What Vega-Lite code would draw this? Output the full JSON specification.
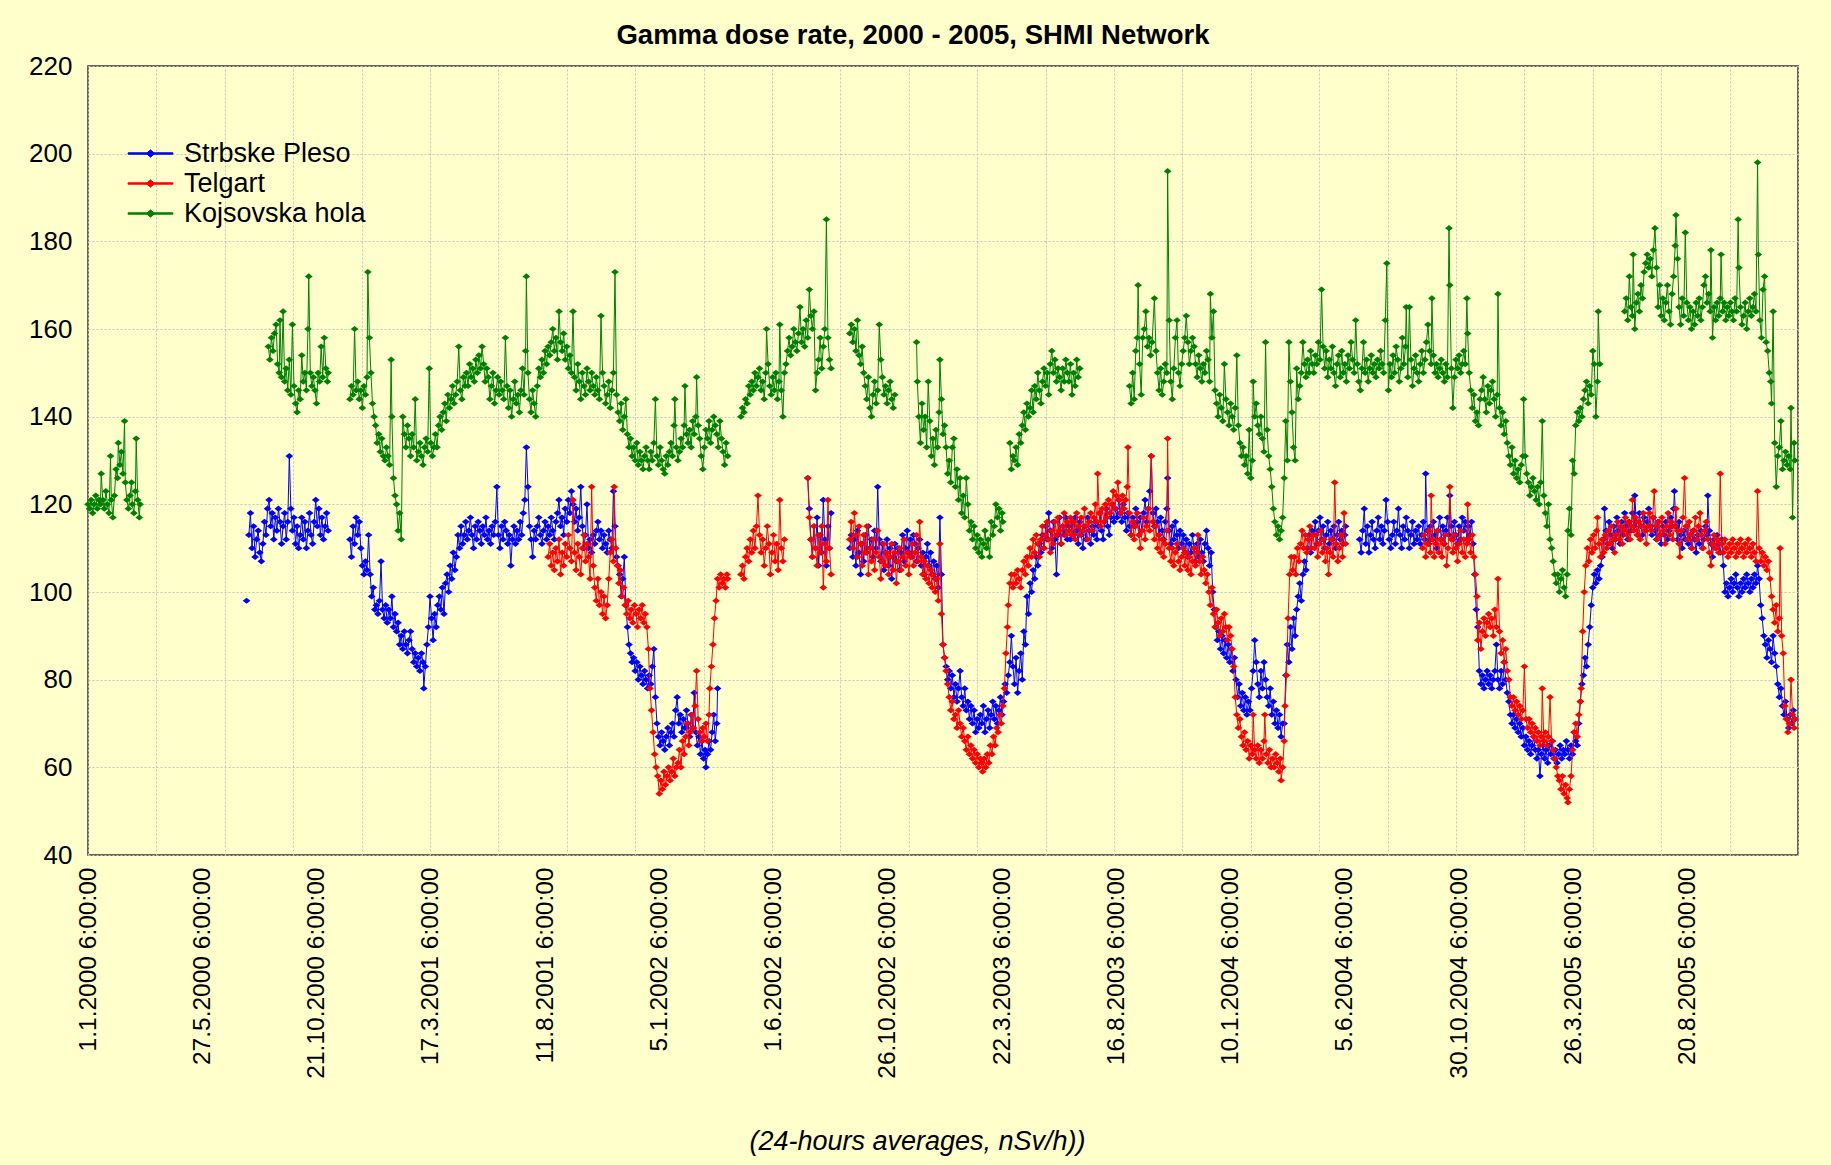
{
"$schema": "https://vega.github.io/schema/vega-lite/v6.json",
"width": 1710, "height": 789,
"autosize": {"type": "none"},
"padding": {"left": 88, "top": 66, "right": 33, "bottom": 310},
"background": "#FFFFCC",
"title": {"text": "Gamma dose rate, 2000 - 2005, SHMI Network", "font": "Liberation Sans", "fontSize": 27.5, "fontWeight": "bold", "color": "black", "frame": "group", "anchor": "middle", "dx": -30, "dy": 39, "offset": 21, "baseline": "alphabetic"},
"config": {
  "view": {"stroke": "#333333", "strokeWidth": 1.5},
  "axis": {"labelFont": "Liberation Sans", "titleFont": "Liberation Sans"},
  "legend": {"orient": "none", "legendX": 48, "legendY": 73, "padding": 0, "labelFontSize": 27, "labelFont": "Liberation Sans", "labelColor": "black", "labelLimit": 500, "symbolType": "M-1.6,-0.05L1.6,-0.05L1.6,0.05L-1.6,0.05ZM0,-0.26L0.3,0L0,0.26L-0.3,0Z", "symbolSize": 784, "symbolStrokeWidth": 1, "labelOffset": 19, "rowPadding": 2}
},
"datasets": {
"sp": [
{"d":204,"v":98},{"d":205,"v":null},
{"d":207,"v":113},{"d":209,"v":118},{"d":211,"v":110},{"d":213,"v":115},{"d":215,"v":108},{"d":217,"v":112},{"d":219,"v":114},{"d":221,"v":109},{"d":223,"v":107},{"d":225,"v":111},{"d":227,"v":116},{"d":229,"v":113},{"d":231,"v":119},{"d":233,"v":121},{"d":235,"v":115},{"d":237,"v":118},{"d":239,"v":112},{"d":241,"v":117},{"d":243,"v":114},{"d":245,"v":119},{"d":247,"v":116},{"d":249,"v":111},{"d":251,"v":115},{"d":253,"v":118},{"d":255,"v":112},{"d":257,"v":116},{"d":259,"v":131},{"d":261,"v":119},{"d":263,"v":114},{"d":265,"v":117},{"d":267,"v":111},{"d":269,"v":115},{"d":271,"v":110},{"d":273,"v":113},{"d":275,"v":117},{"d":277,"v":112},{"d":279,"v":116},{"d":281,"v":110},{"d":283,"v":114},{"d":285,"v":118},{"d":287,"v":113},{"d":289,"v":111},{"d":291,"v":116},{"d":293,"v":121},{"d":295,"v":115},{"d":297,"v":119},{"d":299,"v":113},{"d":301,"v":117},{"d":303,"v":112},{"d":305,"v":115},{"d":307,"v":118},{"d":309,"v":114},
{"d":323,"v":null},
{"d":337,"v":112},{"d":339,"v":108},{"d":341,"v":115},{"d":343,"v":111},{"d":345,"v":117},{"d":347,"v":113},{"d":349,"v":116},{"d":351,"v":110},{"d":353,"v":106},{"d":355,"v":104},{"d":357,"v":107},{"d":359,"v":105},{"d":361,"v":113},{"d":363,"v":104},{"d":365,"v":99},{"d":367,"v":101},{"d":369,"v":96},{"d":371,"v":97},{"d":373,"v":95},{"d":375,"v":98},{"d":377,"v":107},{"d":379,"v":96},{"d":381,"v":94},{"d":383,"v":97},{"d":385,"v":93},{"d":387,"v":96},{"d":389,"v":94},{"d":391,"v":99},{"d":393,"v":92},{"d":395,"v":95},{"d":397,"v":91},{"d":399,"v":93},{"d":401,"v":88},{"d":403,"v":90},{"d":405,"v":87},{"d":407,"v":91},{"d":409,"v":88},{"d":411,"v":86},{"d":413,"v":89},{"d":415,"v":91},{"d":417,"v":87},{"d":419,"v":84},{"d":421,"v":86},{"d":423,"v":83},{"d":425,"v":85},{"d":427,"v":82},{"d":429,"v":86},{"d":431,"v":84},{"d":432,"v":78},{"d":434,"v":83},{"d":436,"v":88},{"d":438,"v":92},{"d":440,"v":99},{"d":442,"v":94},{"d":444,"v":89},{"d":446,"v":95},{"d":448,"v":92},{"d":450,"v":97},{"d":452,"v":99},{"d":454,"v":96},{"d":456,"v":101},{"d":458,"v":95},{"d":460,"v":102},{"d":462,"v":104},{"d":464,"v":100},{"d":466,"v":106},{"d":468,"v":103},{"d":470,"v":109},{"d":472,"v":105},{"d":474,"v":108},{"d":476,"v":113},{"d":478,"v":110},{"d":480,"v":115},{"d":482,"v":111},{"d":484,"v":113},{"d":486,"v":116},{"d":488,"v":112},{"d":490,"v":114},{"d":492,"v":117},{"d":494,"v":113},{"d":496,"v":110},{"d":498,"v":115},{"d":500,"v":112},{"d":502,"v":116},{"d":504,"v":114},{"d":506,"v":111},{"d":508,"v":115},{"d":510,"v":113},{"d":512,"v":117},{"d":514,"v":112},{"d":516,"v":114},{"d":518,"v":111},{"d":520,"v":115},{"d":522,"v":113},{"d":524,"v":116},{"d":526,"v":124},{"d":528,"v":113},{"d":530,"v":110},{"d":532,"v":115},{"d":534,"v":112},{"d":536,"v":116},{"d":538,"v":114},{"d":540,"v":111},{"d":542,"v":113},{"d":544,"v":106},{"d":546,"v":112},{"d":548,"v":115},{"d":550,"v":111},{"d":552,"v":114},{"d":554,"v":112},{"d":556,"v":116},{"d":558,"v":113},{"d":560,"v":118},{"d":562,"v":121},{"d":564,"v":133},{"d":566,"v":124},{"d":568,"v":115},{"d":570,"v":112},{"d":572,"v":108},{"d":574,"v":114},{"d":576,"v":112},{"d":578,"v":115},{"d":580,"v":117},{"d":582,"v":113},{"d":584,"v":111},{"d":586,"v":114},{"d":588,"v":116},{"d":590,"v":112},{"d":592,"v":115},{"d":594,"v":113},{"d":596,"v":117},{"d":598,"v":114},{"d":600,"v":112},{"d":602,"v":116},{"d":604,"v":118},{"d":606,"v":121},{"d":608,"v":115},{"d":610,"v":117},{"d":612,"v":113},{"d":614,"v":119},{"d":616,"v":116},{"d":618,"v":121},{"d":620,"v":118},{"d":622,"v":123},{"d":624,"v":120},{"d":626,"v":116},{"d":628,"v":119},{"d":630,"v":114},{"d":632,"v":117},{"d":634,"v":124},{"d":636,"v":115},{"d":638,"v":110},{"d":640,"v":113},{"d":642,"v":120},{"d":644,"v":110},{"d":646,"v":112},{"d":648,"v":109},{"d":650,"v":113},{"d":652,"v":111},{"d":654,"v":114},{"d":656,"v":116},{"d":658,"v":112},{"d":660,"v":114},{"d":662,"v":110},{"d":664,"v":113},{"d":666,"v":111},{"d":668,"v":109},{"d":670,"v":114},{"d":672,"v":112},{"d":674,"v":110},{"d":676,"v":123},{"d":678,"v":115},{"d":680,"v":108},{"d":682,"v":106},{"d":684,"v":104},{"d":686,"v":99},{"d":688,"v":103},{"d":690,"v":108},{"d":692,"v":97},{"d":694,"v":92},{"d":696,"v":88},{"d":698,"v":86},{"d":700,"v":84},{"d":702,"v":85},{"d":704,"v":82},{"d":706,"v":84},{"d":708,"v":80},{"d":710,"v":83},{"d":712,"v":81},{"d":714,"v":79},{"d":716,"v":82},{"d":718,"v":80},{"d":720,"v":78},{"d":722,"v":81},{"d":724,"v":79},{"d":726,"v":83},{"d":728,"v":87},{"d":730,"v":76},{"d":732,"v":70},{"d":734,"v":67},{"d":736,"v":65},{"d":738,"v":68},{"d":740,"v":66},{"d":742,"v":64},{"d":744,"v":67},{"d":746,"v":69},{"d":748,"v":65},{"d":750,"v":68},{"d":752,"v":70},{"d":754,"v":67},{"d":756,"v":73},{"d":758,"v":76},{"d":760,"v":70},{"d":762,"v":72},{"d":764,"v":68},{"d":766,"v":71},{"d":768,"v":69},{"d":770,"v":73},{"d":772,"v":70},{"d":774,"v":67},{"d":776,"v":72},{"d":778,"v":69},{"d":780,"v":77},{"d":782,"v":68},{"d":784,"v":65},{"d":786,"v":67},{"d":788,"v":63},{"d":790,"v":66},{"d":792,"v":62},{"d":794,"v":64},{"d":795,"v":60},{"d":797,"v":63},{"d":799,"v":66},{"d":801,"v":64},{"d":803,"v":68},{"d":805,"v":72},{"d":807,"v":66},{"d":809,"v":70},{"d":810,"v":78},
{"d":868,"v":null},
{"d":926,"v":126},{"d":928,"v":119},{"d":930,"v":112},{"d":932,"v":108},{"d":934,"v":115},{"d":936,"v":110},{"d":938,"v":117},{"d":940,"v":106},{"d":942,"v":113},{"d":944,"v":109},{"d":946,"v":121},{"d":948,"v":112},{"d":950,"v":106},{"d":952,"v":115},{"d":954,"v":110},{"d":956,"v":118},
{"d":968,"v":null},
{"d":980,"v":110},{"d":982,"v":113},{"d":984,"v":108},{"d":986,"v":112},{"d":988,"v":106},{"d":990,"v":114},{"d":992,"v":109},{"d":994,"v":104},{"d":996,"v":111},{"d":998,"v":107},{"d":1000,"v":113},{"d":1002,"v":109},{"d":1004,"v":115},{"d":1006,"v":110},{"d":1008,"v":112},{"d":1010,"v":108},{"d":1012,"v":114},{"d":1014,"v":110},{"d":1016,"v":124},{"d":1018,"v":112},{"d":1020,"v":107},{"d":1022,"v":111},{"d":1024,"v":105},{"d":1026,"v":109},{"d":1028,"v":112},{"d":1030,"v":106},{"d":1032,"v":110},{"d":1034,"v":103},{"d":1036,"v":108},{"d":1038,"v":111},{"d":1040,"v":107},{"d":1042,"v":110},{"d":1044,"v":105},{"d":1046,"v":109},{"d":1048,"v":113},{"d":1050,"v":107},{"d":1052,"v":110},{"d":1054,"v":114},{"d":1056,"v":109},{"d":1058,"v":112},{"d":1060,"v":108},{"d":1062,"v":113},{"d":1064,"v":111},{"d":1066,"v":107},{"d":1068,"v":110},{"d":1070,"v":112},{"d":1072,"v":106},{"d":1074,"v":109},{"d":1076,"v":104},{"d":1078,"v":108},{"d":1080,"v":111},{"d":1082,"v":106},{"d":1084,"v":109},{"d":1086,"v":104},{"d":1088,"v":107},{"d":1090,"v":103},{"d":1092,"v":106},{"d":1094,"v":101},{"d":1096,"v":117},{"d":1098,"v":104},{"d":1100,"v":88},{"d":1102,"v":85},{"d":1104,"v":83},{"d":1106,"v":80},{"d":1108,"v":82},{"d":1110,"v":78},{"d":1112,"v":81},{"d":1114,"v":76},{"d":1116,"v":79},{"d":1118,"v":75},{"d":1120,"v":78},{"d":1122,"v":82},{"d":1124,"v":76},{"d":1126,"v":74},{"d":1128,"v":78},{"d":1130,"v":73},{"d":1132,"v":75},{"d":1134,"v":71},{"d":1136,"v":74},{"d":1138,"v":70},{"d":1140,"v":73},{"d":1142,"v":68},{"d":1144,"v":71},{"d":1146,"v":69},{"d":1148,"v":72},{"d":1150,"v":70},{"d":1152,"v":74},{"d":1154,"v":68},{"d":1156,"v":71},{"d":1158,"v":73},{"d":1160,"v":69},{"d":1162,"v":72},{"d":1164,"v":75},{"d":1166,"v":71},{"d":1168,"v":74},{"d":1170,"v":70},{"d":1172,"v":73},{"d":1174,"v":76},{"d":1176,"v":72},{"d":1178,"v":75},{"d":1180,"v":79},{"d":1182,"v":77},{"d":1184,"v":81},{"d":1186,"v":84},{"d":1188,"v":90},{"d":1190,"v":83},{"d":1192,"v":79},{"d":1194,"v":85},{"d":1196,"v":77},{"d":1198,"v":82},{"d":1200,"v":86},{"d":1202,"v":80},{"d":1204,"v":91},{"d":1206,"v":88},{"d":1208,"v":99},{"d":1210,"v":95},{"d":1212,"v":102},{"d":1214,"v":100},{"d":1216,"v":105},{"d":1218,"v":103},{"d":1220,"v":108},{"d":1222,"v":106},{"d":1224,"v":111},{"d":1226,"v":109},{"d":1228,"v":113},{"d":1230,"v":110},{"d":1232,"v":115},{"d":1234,"v":112},{"d":1236,"v":118},{"d":1238,"v":114},{"d":1240,"v":110},{"d":1242,"v":116},{"d":1244,"v":112},{"d":1246,"v":104},{"d":1248,"v":113},{"d":1250,"v":117},{"d":1252,"v":111},{"d":1254,"v":115},{"d":1256,"v":113},{"d":1258,"v":117},{"d":1260,"v":112},
{"d":1262,"v":115},{"d":1264,"v":112},{"d":1266,"v":116},{"d":1268,"v":113},{"d":1270,"v":117},{"d":1272,"v":114},{"d":1274,"v":111},{"d":1276,"v":116},{"d":1278,"v":113},{"d":1280,"v":110},{"d":1282,"v":115},{"d":1284,"v":112},{"d":1286,"v":117},{"d":1288,"v":114},{"d":1290,"v":111},{"d":1292,"v":115},{"d":1294,"v":113},{"d":1296,"v":116},{"d":1298,"v":112},{"d":1300,"v":115},{"d":1302,"v":118},{"d":1304,"v":114},{"d":1306,"v":112},{"d":1308,"v":116},{"d":1310,"v":119},{"d":1312,"v":115},{"d":1314,"v":113},{"d":1316,"v":117},{"d":1318,"v":120},{"d":1320,"v":116},{"d":1322,"v":119},{"d":1324,"v":117},{"d":1326,"v":121},{"d":1328,"v":118},{"d":1330,"v":116},{"d":1332,"v":120},{"d":1334,"v":117},{"d":1336,"v":114},{"d":1338,"v":118},{"d":1340,"v":115},{"d":1342,"v":113},{"d":1344,"v":117},{"d":1346,"v":115},{"d":1348,"v":119},{"d":1350,"v":116},{"d":1352,"v":113},{"d":1354,"v":117},{"d":1356,"v":114},{"d":1358,"v":118},{"d":1360,"v":121},{"d":1362,"v":116},{"d":1364,"v":119},{"d":1366,"v":123},{"d":1368,"v":131},{"d":1370,"v":118},{"d":1372,"v":115},{"d":1374,"v":119},{"d":1376,"v":116},{"d":1378,"v":113},{"d":1380,"v":117},{"d":1382,"v":114},{"d":1384,"v":112},{"d":1386,"v":116},{"d":1388,"v":119},{"d":1389,"v":126},{"d":1391,"v":114},{"d":1393,"v":111},{"d":1395,"v":115},{"d":1397,"v":112},{"d":1399,"v":116},{"d":1401,"v":113},{"d":1403,"v":110},{"d":1405,"v":114},{"d":1407,"v":111},{"d":1409,"v":113},{"d":1411,"v":109},{"d":1413,"v":112},{"d":1415,"v":108},{"d":1417,"v":111},{"d":1419,"v":109},{"d":1421,"v":113},{"d":1423,"v":110},{"d":1425,"v":107},{"d":1427,"v":111},{"d":1429,"v":108},{"d":1431,"v":112},{"d":1433,"v":109},{"d":1435,"v":107},{"d":1437,"v":111},{"d":1439,"v":114},{"d":1441,"v":110},{"d":1443,"v":106},{"d":1445,"v":109},{"d":1447,"v":100},{"d":1449,"v":96},{"d":1451,"v":92},{"d":1453,"v":89},{"d":1455,"v":91},{"d":1457,"v":87},{"d":1459,"v":90},{"d":1461,"v":86},{"d":1463,"v":89},{"d":1465,"v":85},{"d":1467,"v":88},{"d":1469,"v":84},{"d":1471,"v":87},{"d":1473,"v":82},{"d":1475,"v":85},{"d":1477,"v":80},{"d":1479,"v":76},{"d":1481,"v":79},{"d":1483,"v":74},{"d":1485,"v":77},{"d":1487,"v":73},{"d":1489,"v":76},{"d":1491,"v":72},{"d":1493,"v":75},{"d":1495,"v":73},{"d":1497,"v":78},{"d":1499,"v":82},{"d":1501,"v":89},{"d":1503,"v":84},{"d":1505,"v":79},{"d":1507,"v":76},{"d":1509,"v":82},{"d":1511,"v":78},{"d":1513,"v":84},{"d":1515,"v":80},{"d":1517,"v":76},{"d":1519,"v":74},{"d":1521,"v":78},{"d":1523,"v":72},{"d":1525,"v":75},{"d":1527,"v":70},{"d":1529,"v":73},{"d":1531,"v":69},{"d":1533,"v":72},{"d":1535,"v":67},{"d":1537,"v":70},{"d":1539,"v":70},{"d":1541,"v":81},{"d":1543,"v":88},{"d":1545,"v":84},{"d":1547,"v":92},{"d":1549,"v":87},{"d":1551,"v":94},{"d":1553,"v":90},{"d":1555,"v":96},{"d":1557,"v":99},{"d":1559,"v":102},{"d":1561,"v":98},{"d":1563,"v":104},{"d":1565,"v":107},{"d":1567,"v":105},{"d":1569,"v":110},{"d":1571,"v":113},{"d":1573,"v":109},{"d":1575,"v":114},
{"d":1577,"v":113},{"d":1579,"v":116},{"d":1581,"v":111},{"d":1583,"v":114},{"d":1585,"v":117},{"d":1587,"v":112},{"d":1589,"v":115},{"d":1591,"v":110},{"d":1593,"v":113},{"d":1595,"v":116},{"d":1597,"v":111},{"d":1599,"v":114},{"d":1601,"v":112},{"d":1603,"v":115},{"d":1605,"v":110},{"d":1607,"v":113},{"d":1609,"v":116},{"d":1611,"v":112},{"d":1613,"v":114},{"d":1615,"v":111},{"d":1617,"v":113},{"d":1618,"v":115},
{"d":1627,"v":null},
{"d":1636,"v":112},{"d":1638,"v":109},{"d":1640,"v":114},{"d":1642,"v":119},{"d":1644,"v":111},{"d":1646,"v":115},{"d":1648,"v":109},{"d":1650,"v":113},{"d":1652,"v":116},{"d":1654,"v":112},{"d":1656,"v":110},{"d":1658,"v":114},{"d":1660,"v":117},{"d":1662,"v":112},{"d":1664,"v":115},{"d":1666,"v":111},{"d":1668,"v":114},{"d":1670,"v":121},{"d":1672,"v":116},{"d":1674,"v":112},{"d":1676,"v":110},{"d":1678,"v":113},{"d":1680,"v":116},{"d":1682,"v":111},{"d":1684,"v":114},{"d":1686,"v":119},{"d":1688,"v":113},{"d":1690,"v":110},{"d":1692,"v":115},{"d":1694,"v":112},{"d":1696,"v":117},{"d":1698,"v":114},{"d":1700,"v":110},{"d":1702,"v":113},{"d":1704,"v":116},{"d":1706,"v":111},{"d":1708,"v":114},{"d":1710,"v":112},{"d":1712,"v":115},{"d":1714,"v":111},{"d":1716,"v":113},{"d":1718,"v":116},{"d":1720,"v":112},{"d":1721,"v":127},{"d":1723,"v":114},{"d":1725,"v":111},{"d":1727,"v":115},{"d":1729,"v":112},{"d":1731,"v":116},{"d":1733,"v":113},{"d":1735,"v":110},{"d":1737,"v":114},{"d":1739,"v":117},{"d":1741,"v":112},{"d":1743,"v":115},{"d":1745,"v":111},{"d":1747,"v":114},{"d":1749,"v":117},{"d":1751,"v":113},{"d":1752,"v":122},{"d":1754,"v":115},{"d":1756,"v":112},{"d":1758,"v":116},{"d":1760,"v":113},{"d":1762,"v":111},{"d":1764,"v":115},{"d":1766,"v":112},{"d":1768,"v":117},{"d":1770,"v":114},{"d":1772,"v":116},{"d":1774,"v":112},{"d":1776,"v":115},{"d":1778,"v":113},{"d":1780,"v":116},{"d":1782,"v":111},{"d":1784,"v":104},{"d":1786,"v":96},{"d":1788,"v":92},{"d":1790,"v":82},{"d":1792,"v":79},{"d":1794,"v":81},{"d":1796,"v":78},{"d":1798,"v":80},{"d":1800,"v":82},{"d":1802,"v":79},{"d":1804,"v":81},{"d":1806,"v":78},{"d":1808,"v":80},{"d":1810,"v":82},{"d":1812,"v":88},{"d":1814,"v":80},{"d":1816,"v":78},{"d":1818,"v":82},{"d":1820,"v":79},{"d":1822,"v":84},{"d":1824,"v":80},{"d":1826,"v":77},{"d":1828,"v":75},{"d":1830,"v":72},{"d":1832,"v":70},{"d":1834,"v":72},{"d":1836,"v":69},{"d":1838,"v":71},{"d":1840,"v":68},{"d":1842,"v":70},{"d":1844,"v":67},{"d":1846,"v":69},{"d":1848,"v":65},{"d":1850,"v":67},{"d":1852,"v":64},{"d":1854,"v":66},{"d":1856,"v":63},{"d":1858,"v":65},{"d":1860,"v":67},{"d":1862,"v":64},{"d":1864,"v":62},{"d":1866,"v":64},{"d":1868,"v":58},{"d":1870,"v":63},{"d":1872,"v":65},{"d":1874,"v":62},{"d":1876,"v":64},{"d":1878,"v":61},{"d":1880,"v":65},{"d":1882,"v":63},{"d":1884,"v":66},{"d":1886,"v":62},{"d":1888,"v":64},{"d":1890,"v":61},
{"d":1892,"v":63},{"d":1894,"v":65},{"d":1896,"v":62},{"d":1898,"v":64},{"d":1900,"v":63},{"d":1902,"v":66},{"d":1904,"v":64},{"d":1906,"v":62},{"d":1908,"v":65},{"d":1910,"v":63},{"d":1912,"v":68},{"d":1914,"v":66},{"d":1916,"v":65},{"d":1918,"v":70},{"d":1920,"v":75},{"d":1922,"v":79},{"d":1924,"v":81},{"d":1926,"v":85},{"d":1928,"v":83},{"d":1930,"v":88},{"d":1932,"v":92},{"d":1934,"v":97},{"d":1936,"v":101},{"d":1938,"v":104},{"d":1940,"v":102},{"d":1942,"v":105},{"d":1944,"v":103},{"d":1946,"v":106},{"d":1948,"v":108},{"d":1950,"v":112},{"d":1951,"v":119},{"d":1953,"v":114},{"d":1955,"v":111},{"d":1957,"v":116},{"d":1959,"v":113},{"d":1961,"v":110},{"d":1963,"v":115},{"d":1965,"v":112},{"d":1967,"v":117},{"d":1969,"v":114},{"d":1971,"v":111},{"d":1973,"v":116},{"d":1975,"v":113},{"d":1977,"v":118},{"d":1979,"v":115},{"d":1981,"v":112},{"d":1983,"v":116},{"d":1985,"v":114},{"d":1987,"v":118},{"d":1989,"v":115},{"d":1990,"v":122},{"d":1992,"v":116},{"d":1994,"v":113},{"d":1996,"v":118},{"d":1998,"v":115},{"d":2000,"v":113},{"d":2002,"v":117},{"d":2004,"v":114},{"d":2006,"v":116},{"d":2008,"v":119},{"d":2010,"v":115},{"d":2012,"v":113},{"d":2014,"v":117},{"d":2016,"v":114},{"d":2018,"v":112},{"d":2020,"v":116},{"d":2022,"v":113},{"d":2024,"v":111},{"d":2026,"v":115},{"d":2028,"v":113},{"d":2030,"v":116},{"d":2032,"v":112},{"d":2034,"v":114},{"d":2036,"v":117},{"d":2038,"v":115},{"d":2040,"v":119},{"d":2041,"v":123},{"d":2043,"v":115},{"d":2045,"v":112},{"d":2047,"v":116},{"d":2049,"v":113},{"d":2051,"v":110},{"d":2053,"v":114},{"d":2055,"v":112},{"d":2057,"v":115},{"d":2059,"v":111},{"d":2061,"v":113},{"d":2063,"v":110},{"d":2065,"v":114},{"d":2067,"v":112},{"d":2069,"v":109},{"d":2071,"v":113},{"d":2073,"v":111},{"d":2075,"v":114},{"d":2077,"v":110},{"d":2079,"v":112},{"d":2081,"v":115},{"d":2083,"v":113},{"d":2084,"v":122},{"d":2086,"v":114},{"d":2088,"v":111},{"d":2090,"v":108},{"d":2092,"v":112},{"d":2094,"v":110},{"d":2096,"v":113},{"d":2098,"v":111},{"d":2100,"v":109},{"d":2102,"v":112},{"d":2104,"v":106},{"d":2106,"v":100},{"d":2108,"v":102},{"d":2110,"v":99},{"d":2112,"v":101},{"d":2114,"v":103},{"d":2116,"v":100},{"d":2118,"v":102},{"d":2120,"v":104},{"d":2122,"v":101},{"d":2124,"v":99},{"d":2126,"v":102},{"d":2128,"v":100},{"d":2130,"v":103},{"d":2132,"v":101},{"d":2134,"v":104},{"d":2136,"v":102},{"d":2138,"v":100},{"d":2140,"v":103},{"d":2142,"v":101},{"d":2144,"v":104},{"d":2146,"v":102},{"d":2148,"v":106},{"d":2150,"v":103},{"d":2152,"v":97},{"d":2154,"v":94},{"d":2156,"v":90},{"d":2158,"v":88},{"d":2160,"v":85},{"d":2162,"v":89},{"d":2164,"v":87},{"d":2166,"v":84},{"d":2168,"v":90},{"d":2170,"v":86},{"d":2172,"v":83},{"d":2174,"v":79},{"d":2176,"v":76},{"d":2178,"v":78},{"d":2180,"v":74},{"d":2182,"v":72},{"d":2184,"v":75},{"d":2186,"v":71},{"d":2188,"v":69},{"d":2190,"v":72},{"d":2192,"v":70},{"d":2194,"v":73},{"d":2196,"v":71}
],
"tg": [
{"d":592,"v":108},{"d":594,"v":111},{"d":596,"v":106},{"d":598,"v":109},{"d":600,"v":105},{"d":602,"v":110},{"d":604,"v":107},{"d":606,"v":112},{"d":608,"v":104},{"d":610,"v":109},{"d":612,"v":106},{"d":614,"v":111},{"d":616,"v":108},{"d":618,"v":113},{"d":620,"v":110},{"d":622,"v":107},{"d":624,"v":121},{"d":626,"v":109},{"d":628,"v":105},{"d":630,"v":111},{"d":632,"v":108},{"d":634,"v":104},{"d":636,"v":110},{"d":638,"v":113},{"d":640,"v":107},{"d":642,"v":111},{"d":644,"v":108},{"d":646,"v":103},{"d":648,"v":124},{"d":650,"v":106},{"d":652,"v":101},{"d":654,"v":98},{"d":656,"v":103},{"d":658,"v":97},{"d":660,"v":100},{"d":662,"v":95},{"d":664,"v":99},{"d":666,"v":94},{"d":668,"v":97},{"d":670,"v":103},{"d":672,"v":109},{"d":674,"v":112},{"d":676,"v":107},{"d":677,"v":124},{"d":679,"v":110},{"d":681,"v":106},{"d":683,"v":102},{"d":685,"v":105},{"d":687,"v":99},{"d":689,"v":101},{"d":691,"v":97},{"d":693,"v":95},{"d":695,"v":98},{"d":697,"v":94},{"d":699,"v":96},{"d":701,"v":93},{"d":703,"v":97},{"d":705,"v":95},{"d":707,"v":92},{"d":709,"v":96},{"d":711,"v":94},{"d":713,"v":97},{"d":715,"v":93},{"d":717,"v":95},{"d":719,"v":92},{"d":721,"v":87},{"d":723,"v":78},{"d":725,"v":73},{"d":727,"v":68},{"d":729,"v":63},{"d":731,"v":60},{"d":733,"v":58},{"d":735,"v":54},{"d":737,"v":57},{"d":739,"v":55},{"d":741,"v":59},{"d":743,"v":56},{"d":745,"v":58},{"d":747,"v":60},{"d":749,"v":57},{"d":751,"v":59},{"d":753,"v":62},{"d":755,"v":58},{"d":757,"v":60},{"d":759,"v":61},{"d":761,"v":64},{"d":763,"v":60},{"d":765,"v":66},{"d":767,"v":63},{"d":769,"v":67},{"d":771,"v":70},{"d":773,"v":65},{"d":775,"v":68},{"d":777,"v":72},{"d":779,"v":69},{"d":781,"v":74},{"d":783,"v":82},{"d":785,"v":71},{"d":787,"v":68},{"d":789,"v":66},{"d":791,"v":69},{"d":793,"v":67},{"d":795,"v":70},{"d":797,"v":66},{"d":799,"v":72},{"d":800,"v":78},{"d":802,"v":83},{"d":804,"v":88},{"d":806,"v":94},{"d":808,"v":98},{"d":810,"v":103},{"d":812,"v":101},{"d":814,"v":104},{"d":816,"v":102},{"d":818,"v":103},{"d":820,"v":101},{"d":822,"v":104},{"d":823,"v":103},
{"d":831,"v":null},
{"d":840,"v":104},{"d":842,"v":106},{"d":844,"v":103},{"d":846,"v":108},{"d":848,"v":110},{"d":850,"v":107},{"d":852,"v":112},{"d":854,"v":109},{"d":856,"v":114},{"d":858,"v":110},{"d":860,"v":115},{"d":862,"v":122},{"d":864,"v":113},{"d":866,"v":109},{"d":868,"v":112},{"d":870,"v":106},{"d":872,"v":110},{"d":874,"v":115},{"d":876,"v":111},{"d":878,"v":104},{"d":880,"v":109},{"d":882,"v":113},{"d":884,"v":107},{"d":886,"v":111},{"d":888,"v":105},{"d":890,"v":121},{"d":892,"v":110},{"d":894,"v":107},{"d":896,"v":112},
{"d":911,"v":null},
{"d":926,"v":126},{"d":928,"v":117},{"d":930,"v":112},{"d":932,"v":108},{"d":934,"v":115},{"d":936,"v":110},{"d":938,"v":106},{"d":940,"v":113},{"d":942,"v":109},{"d":944,"v":115},{"d":946,"v":101},{"d":948,"v":111},{"d":950,"v":107},{"d":952,"v":121},{"d":954,"v":110},{"d":956,"v":104},
{"d":968,"v":null},
{"d":980,"v":112},{"d":982,"v":116},{"d":984,"v":110},{"d":986,"v":118},{"d":988,"v":113},{"d":990,"v":108},{"d":992,"v":115},{"d":994,"v":111},{"d":996,"v":106},{"d":998,"v":113},{"d":1000,"v":109},{"d":1002,"v":115},{"d":1004,"v":104},{"d":1006,"v":110},{"d":1008,"v":107},{"d":1010,"v":112},{"d":1012,"v":105},{"d":1014,"v":109},{"d":1016,"v":114},{"d":1018,"v":108},{"d":1020,"v":103},{"d":1022,"v":107},{"d":1024,"v":111},{"d":1026,"v":106},{"d":1028,"v":109},{"d":1030,"v":104},{"d":1032,"v":108},{"d":1034,"v":111},{"d":1036,"v":105},{"d":1038,"v":109},{"d":1040,"v":102},{"d":1042,"v":107},{"d":1044,"v":110},{"d":1046,"v":105},{"d":1048,"v":108},{"d":1050,"v":112},{"d":1052,"v":106},{"d":1054,"v":109},{"d":1056,"v":104},{"d":1058,"v":108},{"d":1060,"v":111},{"d":1062,"v":106},{"d":1064,"v":109},{"d":1066,"v":113},{"d":1068,"v":107},{"d":1070,"v":116},{"d":1072,"v":108},{"d":1074,"v":104},{"d":1076,"v":107},{"d":1078,"v":103},{"d":1080,"v":106},{"d":1082,"v":102},{"d":1084,"v":105},{"d":1086,"v":101},{"d":1088,"v":104},{"d":1090,"v":100},{"d":1092,"v":103},{"d":1094,"v":98},{"d":1096,"v":111},{"d":1098,"v":95},{"d":1100,"v":88},{"d":1102,"v":85},{"d":1104,"v":82},{"d":1106,"v":79},{"d":1108,"v":76},{"d":1110,"v":73},{"d":1112,"v":75},{"d":1114,"v":71},{"d":1116,"v":72},{"d":1118,"v":69},{"d":1120,"v":73},{"d":1122,"v":70},{"d":1124,"v":67},{"d":1126,"v":69},{"d":1128,"v":66},{"d":1130,"v":64},{"d":1132,"v":67},{"d":1134,"v":63},{"d":1136,"v":65},{"d":1138,"v":62},{"d":1140,"v":64},{"d":1142,"v":61},{"d":1144,"v":63},{"d":1146,"v":60},{"d":1148,"v":62},{"d":1150,"v":61},{"d":1151,"v":59},{"d":1153,"v":62},{"d":1155,"v":60},{"d":1157,"v":63},{"d":1159,"v":61},{"d":1161,"v":65},{"d":1163,"v":63},{"d":1165,"v":67},{"d":1167,"v":65},{"d":1169,"v":69},{"d":1171,"v":68},{"d":1173,"v":72},{"d":1175,"v":70},{"d":1177,"v":74},{"d":1179,"v":78},{"d":1181,"v":86},{"d":1183,"v":92},{"d":1184,"v":97},{"d":1186,"v":102},{"d":1188,"v":104},{"d":1190,"v":101},{"d":1192,"v":104},{"d":1194,"v":102},{"d":1196,"v":105},{"d":1198,"v":103},{"d":1200,"v":101},{"d":1202,"v":105},{"d":1204,"v":107},{"d":1206,"v":104},{"d":1208,"v":108},{"d":1210,"v":106},{"d":1212,"v":110},{"d":1214,"v":108},{"d":1216,"v":112},{"d":1218,"v":109},{"d":1220,"v":113},{"d":1222,"v":111},{"d":1224,"v":108},{"d":1226,"v":112},{"d":1228,"v":115},{"d":1230,"v":110},{"d":1232,"v":113},{"d":1234,"v":116},{"d":1236,"v":112},{"d":1238,"v":109},{"d":1240,"v":114},{"d":1242,"v":111},{"d":1244,"v":116},{"d":1246,"v":113},{"d":1248,"v":117},{"d":1250,"v":114},{"d":1252,"v":111},{"d":1254,"v":115},{"d":1256,"v":118},{"d":1258,"v":113},{"d":1260,"v":116},
{"d":1262,"v":114},{"d":1264,"v":117},{"d":1266,"v":113},{"d":1268,"v":116},{"d":1270,"v":112},{"d":1272,"v":118},{"d":1274,"v":115},{"d":1276,"v":113},{"d":1278,"v":117},{"d":1280,"v":114},{"d":1282,"v":119},{"d":1284,"v":115},{"d":1286,"v":112},{"d":1288,"v":116},{"d":1290,"v":118},{"d":1292,"v":114},{"d":1294,"v":117},{"d":1296,"v":120},{"d":1298,"v":116},{"d":1299,"v":127},{"d":1301,"v":118},{"d":1303,"v":115},{"d":1305,"v":119},{"d":1307,"v":116},{"d":1309,"v":120},{"d":1311,"v":117},{"d":1313,"v":121},{"d":1315,"v":118},{"d":1317,"v":120},{"d":1319,"v":123},{"d":1321,"v":119},{"d":1323,"v":122},{"d":1325,"v":125},{"d":1327,"v":121},{"d":1329,"v":118},{"d":1331,"v":122},{"d":1333,"v":119},{"d":1335,"v":121},{"d":1337,"v":124},{"d":1338,"v":133},{"d":1340,"v":118},{"d":1342,"v":113},{"d":1344,"v":116},{"d":1346,"v":112},{"d":1348,"v":115},{"d":1350,"v":118},{"d":1352,"v":113},{"d":1354,"v":110},{"d":1356,"v":114},{"d":1358,"v":117},{"d":1360,"v":112},{"d":1362,"v":115},{"d":1364,"v":119},{"d":1366,"v":114},{"d":1368,"v":131},{"d":1370,"v":116},{"d":1372,"v":112},{"d":1374,"v":115},{"d":1376,"v":110},{"d":1378,"v":113},{"d":1380,"v":109},{"d":1382,"v":112},{"d":1384,"v":108},{"d":1386,"v":111},{"d":1388,"v":114},{"d":1389,"v":135},{"d":1391,"v":110},{"d":1393,"v":107},{"d":1395,"v":110},{"d":1397,"v":106},{"d":1399,"v":109},{"d":1401,"v":111},{"d":1403,"v":107},{"d":1405,"v":105},{"d":1407,"v":108},{"d":1409,"v":110},{"d":1411,"v":106},{"d":1413,"v":109},{"d":1415,"v":105},{"d":1417,"v":108},{"d":1419,"v":104},{"d":1421,"v":107},{"d":1423,"v":110},{"d":1425,"v":106},{"d":1427,"v":109},{"d":1428,"v":113},{"d":1430,"v":107},{"d":1432,"v":104},{"d":1434,"v":108},{"d":1436,"v":105},{"d":1438,"v":102},{"d":1440,"v":104},{"d":1442,"v":100},{"d":1444,"v":97},{"d":1446,"v":101},{"d":1448,"v":95},{"d":1450,"v":92},{"d":1452,"v":96},{"d":1454,"v":93},{"d":1456,"v":90},{"d":1458,"v":94},{"d":1460,"v":91},{"d":1462,"v":95},{"d":1464,"v":92},{"d":1466,"v":89},{"d":1468,"v":92},{"d":1470,"v":90},{"d":1472,"v":87},{"d":1474,"v":83},{"d":1476,"v":76},{"d":1478,"v":72},{"d":1480,"v":69},{"d":1482,"v":71},{"d":1484,"v":67},{"d":1486,"v":65},{"d":1488,"v":68},{"d":1490,"v":64},{"d":1492,"v":66},{"d":1494,"v":62},{"d":1496,"v":65},{"d":1498,"v":63},{"d":1499,"v":72},{"d":1501,"v":64},{"d":1503,"v":62},{"d":1505,"v":65},{"d":1507,"v":61},{"d":1509,"v":64},{"d":1511,"v":62},{"d":1513,"v":66},{"d":1514,"v":72},{"d":1516,"v":63},{"d":1518,"v":61},{"d":1520,"v":64},{"d":1522,"v":60},{"d":1524,"v":62},{"d":1526,"v":60},{"d":1528,"v":63},{"d":1530,"v":61},{"d":1532,"v":59},{"d":1534,"v":62},{"d":1535,"v":57},{"d":1537,"v":60},{"d":1539,"v":66},{"d":1540,"v":74},{"d":1542,"v":81},{"d":1544,"v":94},{"d":1546,"v":104},{"d":1548,"v":108},{"d":1550,"v":105},{"d":1552,"v":108},{"d":1554,"v":104},{"d":1556,"v":110},{"d":1558,"v":107},{"d":1560,"v":111},{"d":1562,"v":114},{"d":1564,"v":110},{"d":1566,"v":113},{"d":1568,"v":109},{"d":1570,"v":112},{"d":1572,"v":115},{"d":1574,"v":110},{"d":1576,"v":113},
{"d":1578,"v":110},{"d":1580,"v":113},{"d":1582,"v":108},{"d":1584,"v":111},{"d":1586,"v":114},{"d":1588,"v":109},{"d":1590,"v":112},{"d":1592,"v":107},{"d":1594,"v":110},{"d":1596,"v":104},{"d":1598,"v":109},{"d":1600,"v":112},{"d":1602,"v":108},{"d":1604,"v":125},{"d":1606,"v":111},{"d":1608,"v":107},{"d":1610,"v":110},{"d":1612,"v":113},{"d":1614,"v":108},{"d":1616,"v":118},{"d":1618,"v":111},
{"d":1667,"v":null},
{"d":1717,"v":110},{"d":1719,"v":113},{"d":1721,"v":108},{"d":1723,"v":111},{"d":1725,"v":114},{"d":1727,"v":109},{"d":1728,"v":122},{"d":1730,"v":112},{"d":1732,"v":108},{"d":1734,"v":111},{"d":1736,"v":114},{"d":1738,"v":109},{"d":1740,"v":112},{"d":1742,"v":108},{"d":1744,"v":111},{"d":1746,"v":113},{"d":1748,"v":106},{"d":1750,"v":110},{"d":1752,"v":124},{"d":1754,"v":112},{"d":1756,"v":109},{"d":1758,"v":113},{"d":1760,"v":110},{"d":1762,"v":107},{"d":1764,"v":111},{"d":1766,"v":114},{"d":1768,"v":109},{"d":1770,"v":112},{"d":1772,"v":108},{"d":1774,"v":111},{"d":1775,"v":120},{"d":1777,"v":112},{"d":1779,"v":109},{"d":1781,"v":113},{"d":1783,"v":108},{"d":1785,"v":104},{"d":1787,"v":99},{"d":1788,"v":89},{"d":1790,"v":93},{"d":1792,"v":87},{"d":1794,"v":91},{"d":1796,"v":94},{"d":1798,"v":90},{"d":1800,"v":93},{"d":1802,"v":95},{"d":1804,"v":92},{"d":1806,"v":94},{"d":1808,"v":90},{"d":1810,"v":96},{"d":1812,"v":92},{"d":1814,"v":103},{"d":1816,"v":91},{"d":1818,"v":86},{"d":1820,"v":89},{"d":1822,"v":84},{"d":1824,"v":87},{"d":1826,"v":82},{"d":1828,"v":80},{"d":1830,"v":76},{"d":1832,"v":74},{"d":1834,"v":76},{"d":1836,"v":73},{"d":1838,"v":75},{"d":1840,"v":72},{"d":1842,"v":74},{"d":1844,"v":71},{"d":1846,"v":73},{"d":1848,"v":83},{"d":1850,"v":71},{"d":1852,"v":69},{"d":1854,"v":71},{"d":1856,"v":68},{"d":1858,"v":70},{"d":1860,"v":67},{"d":1862,"v":69},{"d":1864,"v":66},{"d":1866,"v":68},{"d":1868,"v":65},{"d":1870,"v":67},{"d":1871,"v":78},{"d":1873,"v":66},{"d":1875,"v":68},{"d":1877,"v":65},{"d":1879,"v":67},{"d":1881,"v":76},{"d":1883,"v":66},{"d":1885,"v":64},{"d":1887,"v":62},{"d":1889,"v":60},{"d":1891,"v":58},
{"d":1893,"v":57},{"d":1895,"v":55},{"d":1897,"v":58},{"d":1899,"v":54},{"d":1901,"v":56},{"d":1903,"v":53},{"d":1904,"v":52},{"d":1906,"v":55},{"d":1908,"v":58},{"d":1910,"v":64},{"d":1912,"v":68},{"d":1914,"v":70},{"d":1916,"v":67},{"d":1918,"v":72},{"d":1920,"v":75},{"d":1921,"v":78},{"d":1923,"v":91},{"d":1925,"v":100},{"d":1927,"v":106},{"d":1929,"v":110},{"d":1931,"v":107},{"d":1933,"v":112},{"d":1935,"v":109},{"d":1937,"v":113},{"d":1939,"v":110},{"d":1941,"v":114},{"d":1942,"v":117},{"d":1944,"v":111},{"d":1946,"v":108},{"d":1948,"v":112},{"d":1950,"v":109},{"d":1952,"v":113},{"d":1954,"v":110},{"d":1956,"v":114},{"d":1958,"v":111},{"d":1960,"v":115},{"d":1962,"v":112},{"d":1964,"v":109},{"d":1966,"v":113},{"d":1968,"v":116},{"d":1970,"v":112},{"d":1972,"v":115},{"d":1974,"v":111},{"d":1976,"v":114},{"d":1978,"v":117},{"d":1980,"v":113},{"d":1982,"v":116},{"d":1984,"v":112},{"d":1986,"v":115},{"d":1987,"v":121},{"d":1989,"v":114},{"d":1991,"v":117},{"d":1993,"v":113},{"d":1995,"v":116},{"d":1997,"v":112},{"d":1999,"v":115},{"d":2001,"v":118},{"d":2003,"v":114},{"d":2005,"v":111},{"d":2007,"v":115},{"d":2009,"v":118},{"d":2011,"v":114},{"d":2013,"v":117},{"d":2015,"v":123},{"d":2017,"v":115},{"d":2019,"v":112},{"d":2021,"v":116},{"d":2023,"v":113},{"d":2025,"v":117},{"d":2027,"v":114},{"d":2029,"v":111},{"d":2031,"v":115},{"d":2033,"v":118},{"d":2035,"v":113},{"d":2037,"v":116},{"d":2039,"v":112},{"d":2041,"v":115},{"d":2043,"v":119},{"d":2045,"v":114},{"d":2047,"v":111},{"d":2048,"v":108},{"d":2050,"v":114},{"d":2052,"v":117},{"d":2054,"v":126},{"d":2056,"v":115},{"d":2058,"v":112},{"d":2060,"v":116},{"d":2062,"v":113},{"d":2064,"v":110},{"d":2066,"v":114},{"d":2068,"v":117},{"d":2070,"v":112},{"d":2072,"v":115},{"d":2074,"v":118},{"d":2076,"v":113},{"d":2078,"v":110},{"d":2080,"v":114},{"d":2082,"v":116},{"d":2084,"v":112},{"d":2086,"v":109},{"d":2088,"v":106},{"d":2090,"v":111},{"d":2092,"v":113},{"d":2094,"v":110},{"d":2096,"v":112},{"d":2098,"v":109},{"d":2100,"v":127},{"d":2102,"v":111},{"d":2104,"v":109},{"d":2106,"v":112},{"d":2108,"v":110},{"d":2110,"v":108},{"d":2112,"v":111},{"d":2114,"v":109},{"d":2116,"v":112},{"d":2118,"v":110},{"d":2120,"v":108},{"d":2122,"v":111},{"d":2124,"v":109},{"d":2126,"v":112},{"d":2128,"v":110},{"d":2130,"v":108},{"d":2132,"v":111},{"d":2134,"v":109},{"d":2136,"v":112},{"d":2138,"v":110},{"d":2140,"v":108},{"d":2142,"v":111},{"d":2144,"v":109},{"d":2146,"v":107},{"d":2148,"v":123},{"d":2150,"v":110},{"d":2152,"v":107},{"d":2154,"v":109},{"d":2156,"v":106},{"d":2158,"v":108},{"d":2160,"v":105},{"d":2162,"v":107},{"d":2164,"v":103},{"d":2166,"v":99},{"d":2168,"v":96},{"d":2170,"v":93},{"d":2172,"v":97},{"d":2174,"v":91},{"d":2176,"v":94},{"d":2177,"v":110},{"d":2179,"v":90},{"d":2181,"v":86},{"d":2183,"v":74},{"d":2185,"v":71},{"d":2187,"v":68},{"d":2189,"v":70},{"d":2191,"v":80},{"d":2193,"v":72},{"d":2195,"v":69},{"d":2196,"v":71}
],
"kh": [
{"d":0,"v":120},{"d":2,"v":119},{"d":4,"v":121},{"d":6,"v":118},{"d":8,"v":120},{"d":10,"v":122},{"d":12,"v":119},{"d":14,"v":121},{"d":16,"v":120},{"d":17,"v":127},{"d":19,"v":121},{"d":21,"v":119},{"d":23,"v":123},{"d":25,"v":120},{"d":27,"v":118},{"d":29,"v":131},{"d":30,"v":121},{"d":32,"v":117},{"d":34,"v":122},{"d":36,"v":128},{"d":38,"v":126},{"d":39,"v":134},{"d":41,"v":129},{"d":43,"v":132},{"d":45,"v":127},{"d":47,"v":139},{"d":48,"v":125},{"d":50,"v":121},{"d":52,"v":119},{"d":54,"v":122},{"d":56,"v":125},{"d":57,"v":120},{"d":59,"v":118},{"d":61,"v":123},{"d":62,"v":135},{"d":64,"v":121},{"d":66,"v":117},{"d":67,"v":120},
{"d":150,"v":null},
{"d":232,"v":156},{"d":234,"v":153},{"d":236,"v":158},{"d":238,"v":155},{"d":240,"v":159},{"d":242,"v":161},{"d":244,"v":152},{"d":246,"v":150},{"d":247,"v":162},{"d":249,"v":149},{"d":251,"v":164},{"d":253,"v":148},{"d":255,"v":151},{"d":257,"v":146},{"d":259,"v":153},{"d":261,"v":145},{"d":263,"v":161},{"d":265,"v":147},{"d":267,"v":143},{"d":269,"v":141},{"d":271,"v":146},{"d":273,"v":144},{"d":275,"v":154},{"d":277,"v":148},{"d":279,"v":150},{"d":281,"v":146},{"d":283,"v":160},{"d":284,"v":172},{"d":286,"v":150},{"d":288,"v":147},{"d":290,"v":149},{"d":292,"v":146},{"d":294,"v":143},{"d":296,"v":150},{"d":298,"v":148},{"d":300,"v":156},{"d":302,"v":149},{"d":304,"v":158},{"d":306,"v":151},{"d":308,"v":148},{"d":309,"v":150},
{"d":323,"v":null},
{"d":337,"v":144},{"d":339,"v":147},{"d":341,"v":145},{"d":343,"v":160},{"d":345,"v":146},{"d":347,"v":148},{"d":349,"v":144},{"d":351,"v":146},{"d":353,"v":142},{"d":355,"v":147},{"d":357,"v":145},{"d":359,"v":149},{"d":360,"v":173},{"d":362,"v":158},{"d":364,"v":150},{"d":366,"v":143},{"d":368,"v":140},{"d":370,"v":138},{"d":372,"v":134},{"d":374,"v":136},{"d":376,"v":132},{"d":378,"v":135},{"d":380,"v":131},{"d":382,"v":130},{"d":384,"v":133},{"d":386,"v":131},{"d":388,"v":129},{"d":390,"v":153},{"d":391,"v":140},{"d":393,"v":126},{"d":395,"v":122},{"d":397,"v":120},{"d":399,"v":114},{"d":401,"v":118},{"d":403,"v":112},{"d":405,"v":140},{"d":407,"v":136},{"d":409,"v":133},{"d":411,"v":138},{"d":413,"v":135},{"d":415,"v":131},{"d":417,"v":136},{"d":419,"v":133},{"d":421,"v":144},{"d":423,"v":130},{"d":425,"v":132},{"d":427,"v":134},{"d":429,"v":131},{"d":431,"v":129},{"d":433,"v":133},{"d":435,"v":135},{"d":437,"v":132},{"d":439,"v":151},{"d":441,"v":134},{"d":443,"v":131},{"d":445,"v":133},{"d":447,"v":136},{"d":449,"v":133},{"d":451,"v":138},{"d":453,"v":140},{"d":455,"v":137},{"d":457,"v":141},{"d":459,"v":143},{"d":461,"v":139},{"d":463,"v":145},{"d":465,"v":142},{"d":467,"v":144},{"d":469,"v":147},{"d":471,"v":143},{"d":473,"v":145},{"d":475,"v":148},{"d":477,"v":156},{"d":479,"v":146},{"d":481,"v":144},{"d":483,"v":149},{"d":485,"v":147},{"d":487,"v":150},{"d":489,"v":147},{"d":491,"v":152},{"d":493,"v":149},{"d":495,"v":151},{"d":497,"v":148},{"d":499,"v":153},{"d":501,"v":150},{"d":503,"v":154},{"d":505,"v":151},{"d":507,"v":156},{"d":509,"v":152},{"d":511,"v":148},{"d":513,"v":151},{"d":515,"v":149},{"d":517,"v":144},{"d":519,"v":147},{"d":521,"v":150},{"d":523,"v":143},{"d":525,"v":146},{"d":527,"v":149},{"d":529,"v":145},{"d":531,"v":148},{"d":533,"v":146},{"d":535,"v":144},{"d":537,"v":158},{"d":539,"v":147},{"d":541,"v":142},{"d":543,"v":146},{"d":545,"v":140},{"d":547,"v":144},{"d":549,"v":148},{"d":551,"v":143},{"d":553,"v":145},{"d":555,"v":141},{"d":557,"v":146},{"d":559,"v":151},{"d":561,"v":145},{"d":563,"v":155},{"d":564,"v":172},{"d":566,"v":150},{"d":568,"v":144},{"d":570,"v":141},{"d":572,"v":146},{"d":574,"v":143},{"d":576,"v":140},{"d":578,"v":147},{"d":580,"v":151},{"d":582,"v":149},{"d":584,"v":153},{"d":586,"v":150},{"d":588,"v":155},{"d":590,"v":152},{"d":592,"v":156},{"d":594,"v":154},{"d":596,"v":157},{"d":598,"v":160},{"d":600,"v":155},{"d":602,"v":158},{"d":604,"v":153},{"d":606,"v":164},{"d":608,"v":157},{"d":610,"v":155},{"d":612,"v":159},{"d":614,"v":153},{"d":616,"v":156},{"d":618,"v":151},{"d":620,"v":154},{"d":622,"v":150},{"d":624,"v":164},{"d":626,"v":149},{"d":628,"v":146},{"d":630,"v":152},{"d":632,"v":148},{"d":634,"v":144},{"d":636,"v":150},{"d":638,"v":147},{"d":640,"v":145},{"d":642,"v":151},{"d":644,"v":148},{"d":646,"v":146},{"d":648,"v":150},{"d":650,"v":147},{"d":652,"v":145},{"d":654,"v":149},{"d":656,"v":146},{"d":658,"v":144},{"d":660,"v":163},{"d":662,"v":150},{"d":664,"v":147},{"d":666,"v":143},{"d":668,"v":145},{"d":670,"v":148},{"d":672,"v":142},{"d":674,"v":146},{"d":676,"v":150},{"d":678,"v":173},{"d":680,"v":145},{"d":682,"v":141},{"d":684,"v":139},{"d":686,"v":143},{"d":688,"v":137},{"d":690,"v":140},{"d":692,"v":144},{"d":694,"v":136},{"d":696,"v":133},{"d":698,"v":135},{"d":700,"v":131},{"d":702,"v":133},{"d":704,"v":130},{"d":706,"v":134},{"d":708,"v":129},{"d":710,"v":132},{"d":712,"v":130},{"d":714,"v":128},{"d":716,"v":131},{"d":718,"v":133},{"d":720,"v":130},{"d":722,"v":128},{"d":724,"v":132},{"d":726,"v":130},{"d":728,"v":134},{"d":730,"v":144},{"d":732,"v":131},{"d":734,"v":129},{"d":736,"v":133},{"d":738,"v":130},{"d":740,"v":128},{"d":742,"v":127},{"d":744,"v":131},{"d":746,"v":129},{"d":748,"v":132},{"d":750,"v":134},{"d":752,"v":131},{"d":754,"v":138},{"d":755,"v":144},{"d":757,"v":133},{"d":759,"v":130},{"d":761,"v":132},{"d":763,"v":135},{"d":765,"v":133},{"d":767,"v":138},{"d":768,"v":147},{"d":770,"v":136},{"d":772,"v":134},{"d":774,"v":137},{"d":776,"v":133},{"d":778,"v":139},{"d":780,"v":136},{"d":782,"v":140},{"d":783,"v":149},{"d":785,"v":138},{"d":787,"v":135},{"d":789,"v":131},{"d":791,"v":128},{"d":793,"v":133},{"d":795,"v":137},{"d":797,"v":135},{"d":799,"v":139},{"d":801,"v":134},{"d":803,"v":137},{"d":805,"v":140},{"d":807,"v":138},{"d":809,"v":136},{"d":811,"v":133},{"d":813,"v":139},{"d":815,"v":135},{"d":817,"v":132},{"d":819,"v":129},{"d":821,"v":134},{"d":823,"v":131},
{"d":831,"v":null},
{"d":840,"v":140},{"d":842,"v":142},{"d":844,"v":141},{"d":846,"v":144},{"d":848,"v":143},{"d":850,"v":147},{"d":852,"v":145},{"d":854,"v":148},{"d":856,"v":146},{"d":858,"v":150},{"d":860,"v":147},{"d":862,"v":149},{"d":864,"v":151},{"d":866,"v":146},{"d":868,"v":148},{"d":870,"v":144},{"d":872,"v":150},{"d":873,"v":160},{"d":875,"v":152},{"d":877,"v":147},{"d":879,"v":145},{"d":881,"v":149},{"d":883,"v":146},{"d":885,"v":150},{"d":887,"v":144},{"d":889,"v":148},{"d":890,"v":161},{"d":892,"v":146},{"d":894,"v":140},{"d":896,"v":150},{"d":898,"v":152},{"d":900,"v":155},{"d":902,"v":158},{"d":904,"v":154},{"d":906,"v":156},{"d":908,"v":160},{"d":910,"v":157},{"d":912,"v":155},{"d":914,"v":159},{"d":916,"v":165},{"d":918,"v":157},{"d":920,"v":160},{"d":922,"v":156},{"d":924,"v":162},{"d":926,"v":158},{"d":928,"v":169},{"d":930,"v":163},{"d":932,"v":160},{"d":934,"v":164},{"d":936,"v":146},{"d":938,"v":150},{"d":940,"v":153},{"d":942,"v":158},{"d":944,"v":151},{"d":946,"v":156},{"d":948,"v":160},{"d":950,"v":185},{"d":952,"v":158},{"d":954,"v":153},{"d":956,"v":151},
{"d":968,"v":null},
{"d":980,"v":159},{"d":982,"v":161},{"d":984,"v":157},{"d":986,"v":160},{"d":988,"v":155},{"d":990,"v":162},{"d":992,"v":154},{"d":994,"v":152},{"d":996,"v":156},{"d":998,"v":150},{"d":1000,"v":147},{"d":1002,"v":144},{"d":1004,"v":149},{"d":1006,"v":142},{"d":1008,"v":140},{"d":1010,"v":145},{"d":1012,"v":148},{"d":1014,"v":143},{"d":1016,"v":146},{"d":1018,"v":161},{"d":1020,"v":153},{"d":1022,"v":149},{"d":1024,"v":145},{"d":1026,"v":147},{"d":1028,"v":143},{"d":1030,"v":146},{"d":1032,"v":148},{"d":1034,"v":144},{"d":1036,"v":142},{"d":1038,"v":145},
{"d":1052,"v":null},
{"d":1066,"v":157},{"d":1067,"v":148},{"d":1069,"v":140},{"d":1071,"v":134},{"d":1073,"v":143},{"d":1075,"v":137},{"d":1077,"v":140},{"d":1079,"v":133},{"d":1081,"v":148},{"d":1083,"v":139},{"d":1085,"v":131},{"d":1087,"v":135},{"d":1089,"v":129},{"d":1091,"v":137},{"d":1093,"v":133},{"d":1095,"v":141},{"d":1096,"v":153},{"d":1098,"v":144},{"d":1100,"v":136},{"d":1102,"v":138},{"d":1104,"v":133},{"d":1106,"v":127},{"d":1108,"v":130},{"d":1110,"v":125},{"d":1112,"v":133},{"d":1114,"v":135},{"d":1116,"v":124},{"d":1118,"v":128},{"d":1120,"v":121},{"d":1122,"v":126},{"d":1124,"v":118},{"d":1126,"v":122},{"d":1128,"v":117},{"d":1130,"v":126},{"d":1132,"v":120},{"d":1134,"v":114},{"d":1136,"v":116},{"d":1138,"v":112},{"d":1140,"v":115},{"d":1142,"v":110},{"d":1144,"v":113},{"d":1146,"v":109},{"d":1148,"v":112},{"d":1150,"v":108},{"d":1152,"v":111},{"d":1154,"v":114},{"d":1156,"v":110},{"d":1158,"v":112},{"d":1160,"v":108},{"d":1162,"v":116},{"d":1164,"v":113},{"d":1166,"v":115},{"d":1168,"v":120},{"d":1170,"v":117},{"d":1172,"v":119},{"d":1174,"v":114},{"d":1176,"v":118},{"d":1177,"v":116},
{"d":1181,"v":null},
{"d":1186,"v":134},{"d":1188,"v":128},{"d":1190,"v":131},{"d":1192,"v":130},{"d":1194,"v":133},{"d":1196,"v":129},{"d":1198,"v":136},{"d":1200,"v":134},{"d":1202,"v":138},{"d":1204,"v":141},{"d":1206,"v":137},{"d":1208,"v":143},{"d":1210,"v":140},{"d":1212,"v":142},{"d":1214,"v":146},{"d":1216,"v":141},{"d":1218,"v":147},{"d":1220,"v":144},{"d":1222,"v":150},{"d":1224,"v":146},{"d":1226,"v":143},{"d":1228,"v":148},{"d":1230,"v":151},{"d":1232,"v":147},{"d":1234,"v":150},{"d":1236,"v":145},{"d":1238,"v":152},{"d":1240,"v":155},{"d":1242,"v":150},{"d":1244,"v":153},{"d":1246,"v":148},{"d":1248,"v":151},{"d":1250,"v":149},{"d":1252,"v":146},{"d":1254,"v":151},{"d":1256,"v":148},{"d":1258,"v":153},{"d":1260,"v":150},{"d":1262,"v":148},{"d":1264,"v":152},{"d":1266,"v":145},{"d":1268,"v":150},{"d":1270,"v":147},{"d":1272,"v":153},{"d":1274,"v":149},{"d":1276,"v":151},
{"d":1308,"v":null},
{"d":1340,"v":147},{"d":1342,"v":143},{"d":1344,"v":150},{"d":1346,"v":144},{"d":1348,"v":155},{"d":1350,"v":158},{"d":1351,"v":170},{"d":1353,"v":152},{"d":1355,"v":145},{"d":1357,"v":158},{"d":1359,"v":160},{"d":1361,"v":164},{"d":1363,"v":156},{"d":1365,"v":158},{"d":1367,"v":154},{"d":1369,"v":157},{"d":1372,"v":167},{"d":1374,"v":155},{"d":1376,"v":150},{"d":1378,"v":146},{"d":1380,"v":151},{"d":1382,"v":145},{"d":1384,"v":148},{"d":1386,"v":152},{"d":1388,"v":150},{"d":1389,"v":196},{"d":1391,"v":162},{"d":1393,"v":148},{"d":1395,"v":144},{"d":1397,"v":151},{"d":1399,"v":158},{"d":1401,"v":162},{"d":1403,"v":150},{"d":1405,"v":147},{"d":1407,"v":152},{"d":1409,"v":155},{"d":1411,"v":158},{"d":1413,"v":163},{"d":1415,"v":157},{"d":1417,"v":152},{"d":1419,"v":155},{"d":1421,"v":158},{"d":1423,"v":156},{"d":1425,"v":152},{"d":1427,"v":149},{"d":1429,"v":154},{"d":1431,"v":151},{"d":1433,"v":148},{"d":1435,"v":152},{"d":1437,"v":150},{"d":1439,"v":155},{"d":1441,"v":153},{"d":1443,"v":148},{"d":1444,"v":168},{"d":1446,"v":158},{"d":1448,"v":164},{"d":1450,"v":146},{"d":1452,"v":143},{"d":1454,"v":140},{"d":1456,"v":145},{"d":1458,"v":142},{"d":1460,"v":139},{"d":1462,"v":152},{"d":1464,"v":144},{"d":1466,"v":141},{"d":1468,"v":138},{"d":1470,"v":143},{"d":1472,"v":140},{"d":1474,"v":137},{"d":1476,"v":142},{"d":1478,"v":154},{"d":1480,"v":138},{"d":1482,"v":134},{"d":1484,"v":131},{"d":1486,"v":133},{"d":1488,"v":129},{"d":1490,"v":131},{"d":1492,"v":127},{"d":1494,"v":137},{"d":1496,"v":126},{"d":1498,"v":130},{"d":1499,"v":148},{"d":1501,"v":140},{"d":1503,"v":143},{"d":1505,"v":138},{"d":1507,"v":136},{"d":1509,"v":140},{"d":1511,"v":135},{"d":1513,"v":132},{"d":1515,"v":157},{"d":1517,"v":137},{"d":1519,"v":131},{"d":1521,"v":128},{"d":1523,"v":124},{"d":1525,"v":119},{"d":1527,"v":116},{"d":1529,"v":113},{"d":1531,"v":115},{"d":1533,"v":112},{"d":1535,"v":114},{"d":1537,"v":117},{"d":1539,"v":126},{"d":1541,"v":139},{"d":1543,"v":130},{"d":1545,"v":157},{"d":1547,"v":148},{"d":1549,"v":141},{"d":1551,"v":133},{"d":1553,"v":130},{"d":1555,"v":151},{"d":1557,"v":144},{"d":1559,"v":147},{"d":1561,"v":150},{"d":1563,"v":157},{"d":1565,"v":152},{"d":1567,"v":149},{"d":1569,"v":153},{"d":1571,"v":150},{"d":1573,"v":155},{"d":1575,"v":152},
{"d":1577,"v":150},{"d":1579,"v":154},{"d":1581,"v":152},{"d":1583,"v":157},{"d":1585,"v":153},{"d":1587,"v":169},{"d":1589,"v":156},{"d":1591,"v":151},{"d":1593,"v":155},{"d":1595,"v":149},{"d":1597,"v":153},{"d":1599,"v":151},{"d":1601,"v":156},{"d":1603,"v":150},{"d":1605,"v":147},{"d":1607,"v":152},{"d":1609,"v":154},{"d":1611,"v":149},{"d":1613,"v":155},{"d":1615,"v":150},{"d":1617,"v":152},{"d":1619,"v":148},{"d":1621,"v":154},{"d":1623,"v":151},{"d":1625,"v":157},{"d":1627,"v":153},{"d":1629,"v":150},{"d":1631,"v":162},{"d":1633,"v":152},{"d":1635,"v":148},{"d":1637,"v":146},{"d":1639,"v":151},{"d":1641,"v":157},{"d":1643,"v":150},{"d":1645,"v":153},{"d":1647,"v":148},{"d":1649,"v":151},{"d":1651,"v":154},{"d":1653,"v":150},{"d":1655,"v":152},{"d":1657,"v":149},{"d":1659,"v":153},{"d":1661,"v":151},{"d":1663,"v":155},{"d":1665,"v":152},{"d":1667,"v":150},{"d":1669,"v":162},{"d":1671,"v":175},{"d":1673,"v":146},{"d":1675,"v":152},{"d":1677,"v":149},{"d":1679,"v":154},{"d":1681,"v":150},{"d":1683,"v":156},{"d":1685,"v":153},{"d":1687,"v":148},{"d":1689,"v":151},{"d":1691,"v":158},{"d":1693,"v":152},{"d":1695,"v":156},{"d":1696,"v":165},{"d":1698,"v":149},{"d":1700,"v":165},{"d":1702,"v":153},{"d":1704,"v":147},{"d":1706,"v":151},{"d":1708,"v":154},{"d":1710,"v":150},{"d":1712,"v":148},{"d":1714,"v":152},{"d":1716,"v":155},{"d":1718,"v":150},{"d":1720,"v":153},{"d":1722,"v":157},{"d":1724,"v":161},{"d":1726,"v":155},{"d":1728,"v":152},{"d":1729,"v":167},{"d":1731,"v":154},{"d":1733,"v":150},{"d":1735,"v":152},{"d":1737,"v":149},{"d":1739,"v":151},{"d":1741,"v":153},{"d":1743,"v":150},{"d":1745,"v":148},{"d":1747,"v":152},{"d":1749,"v":149},{"d":1751,"v":183},{"d":1752,"v":170},{"d":1754,"v":151},{"d":1756,"v":142},{"d":1758,"v":149},{"d":1760,"v":153},{"d":1762,"v":151},{"d":1764,"v":154},{"d":1766,"v":150},{"d":1768,"v":152},{"d":1770,"v":155},{"d":1772,"v":152},{"d":1774,"v":167},{"d":1775,"v":159},{"d":1777,"v":150},{"d":1779,"v":146},{"d":1781,"v":142},{"d":1783,"v":145},{"d":1785,"v":139},{"d":1787,"v":141},{"d":1789,"v":138},{"d":1791,"v":144},{"d":1793,"v":146},{"d":1795,"v":149},{"d":1797,"v":144},{"d":1799,"v":141},{"d":1801,"v":147},{"d":1803,"v":143},{"d":1805,"v":146},{"d":1807,"v":148},{"d":1809,"v":144},{"d":1811,"v":140},{"d":1813,"v":145},{"d":1814,"v":168},{"d":1816,"v":142},{"d":1818,"v":138},{"d":1820,"v":141},{"d":1822,"v":136},{"d":1824,"v":139},{"d":1826,"v":134},{"d":1828,"v":131},{"d":1830,"v":129},{"d":1832,"v":133},{"d":1834,"v":127},{"d":1836,"v":130},{"d":1838,"v":126},{"d":1840,"v":128},{"d":1842,"v":125},{"d":1844,"v":129},{"d":1846,"v":131},{"d":1847,"v":144},{"d":1849,"v":131},{"d":1851,"v":127},{"d":1853,"v":125},{"d":1855,"v":122},{"d":1857,"v":124},{"d":1859,"v":126},{"d":1861,"v":123},{"d":1863,"v":121},{"d":1865,"v":124},{"d":1867,"v":120},{"d":1869,"v":125},{"d":1871,"v":139},{"d":1873,"v":122},{"d":1875,"v":118},{"d":1877,"v":115},{"d":1879,"v":120},{"d":1881,"v":112},{"d":1883,"v":110},{"d":1885,"v":107},{"d":1887,"v":104},{"d":1889,"v":102},{"d":1891,"v":104},{"d":1893,"v":100},{"d":1895,"v":103},{"d":1897,"v":105},{"d":1899,"v":101},{"d":1901,"v":99},{"d":1903,"v":104},{"d":1904,"v":114},{"d":1906,"v":119},{"d":1908,"v":113},{"d":1910,"v":130},{"d":1912,"v":127},{"d":1914,"v":138},{"d":1916,"v":141},{"d":1918,"v":139},{"d":1920,"v":142},{"d":1922,"v":140},{"d":1924,"v":144},{"d":1926,"v":146},{"d":1928,"v":148},{"d":1930,"v":143},{"d":1932,"v":147},{"d":1934,"v":145},{"d":1936,"v":155},{"d":1938,"v":152},{"d":1940,"v":140},{"d":1942,"v":148},{"d":1943,"v":164},{"d":1945,"v":152},
{"d":1960,"v":null},
{"d":1977,"v":164},{"d":1979,"v":167},{"d":1981,"v":162},{"d":1983,"v":172},{"d":1985,"v":165},{"d":1987,"v":163},{"d":1988,"v":177},{"d":1990,"v":160},{"d":1992,"v":166},{"d":1994,"v":168},{"d":1996,"v":164},{"d":1998,"v":170},{"d":2000,"v":167},{"d":2002,"v":173},{"d":2004,"v":175},{"d":2006,"v":177},{"d":2008,"v":174},{"d":2010,"v":176},{"d":2012,"v":172},{"d":2014,"v":178},{"d":2016,"v":183},{"d":2018,"v":174},{"d":2020,"v":165},{"d":2022,"v":170},{"d":2024,"v":163},{"d":2026,"v":167},{"d":2028,"v":162},{"d":2030,"v":166},{"d":2032,"v":170},{"d":2034,"v":164},{"d":2036,"v":161},{"d":2038,"v":168},{"d":2040,"v":172},{"d":2042,"v":179},{"d":2043,"v":186},{"d":2045,"v":176},{"d":2047,"v":165},{"d":2049,"v":161},{"d":2051,"v":167},{"d":2053,"v":163},{"d":2055,"v":182},{"d":2057,"v":166},{"d":2059,"v":162},{"d":2061,"v":165},{"d":2063,"v":160},{"d":2065,"v":164},{"d":2067,"v":161},{"d":2069,"v":166},{"d":2071,"v":163},{"d":2073,"v":167},{"d":2075,"v":162},{"d":2077,"v":165},{"d":2079,"v":170},{"d":2081,"v":172},{"d":2083,"v":166},{"d":2085,"v":168},{"d":2087,"v":164},{"d":2088,"v":178},{"d":2090,"v":158},{"d":2092,"v":165},{"d":2094,"v":162},{"d":2096,"v":166},{"d":2098,"v":163},{"d":2100,"v":167},{"d":2101,"v":177},{"d":2103,"v":164},{"d":2105,"v":166},{"d":2107,"v":162},{"d":2109,"v":165},{"d":2111,"v":163},{"d":2113,"v":166},{"d":2115,"v":164},{"d":2117,"v":162},{"d":2119,"v":167},{"d":2121,"v":164},{"d":2123,"v":185},{"d":2124,"v":174},{"d":2126,"v":165},{"d":2128,"v":161},{"d":2130,"v":163},{"d":2132,"v":166},{"d":2134,"v":160},{"d":2136,"v":164},{"d":2138,"v":167},{"d":2140,"v":163},{"d":2142,"v":165},{"d":2144,"v":168},{"d":2146,"v":164},{"d":2148,"v":198},{"d":2149,"v":177},{"d":2151,"v":162},{"d":2153,"v":158},{"d":2155,"v":169},{"d":2157,"v":172},{"d":2159,"v":157},{"d":2161,"v":155},{"d":2163,"v":150},{"d":2165,"v":148},{"d":2166,"v":143},{"d":2168,"v":164},{"d":2170,"v":134},{"d":2172,"v":124},{"d":2174,"v":131},{"d":2176,"v":133},{"d":2178,"v":139},{"d":2180,"v":128},{"d":2182,"v":130},{"d":2184,"v":132},{"d":2186,"v":129},{"d":2188,"v":131},{"d":2190,"v":128},{"d":2191,"v":142},{"d":2193,"v":117},{"d":2195,"v":134},{"d":2196,"v":130}
]
},
"encoding": {
  "x": {"field": "d", "type": "quantitative", "scale": {"domain": [0, 2200], "nice": false, "zero": false}, "axis": null},
  "y": {"field": "v", "type": "quantitative", "scale": {"domain": [40, 220], "nice": false, "zero": false},
        "axis": {"values": [40, 60, 80, 100, 120, 140, 160, 180, 200, 220], "title": null, "grid": true, "gridDash": [2, 2], "gridColor": "#C4C4C4", "domain": false, "ticks": false, "labelFontSize": 26, "labelPadding": 16, "labelColor": "black", "labelFlush": false, "labelOverlap": false}}
},
"resolve": {"axis": {"x": "independent"}},
"layer": [
  {"data": {"values": []}, "mark": {"type": "rule"},
   "encoding": {"x": {"field": "d", "type": "quantitative", "scale": {"domain": [0, 2200], "nice": false, "zero": false},
     "axis": {"orient": "top", "values": [0, 88, 176, 264, 352, 440, 528, 616, 704, 792, 880, 968, 1056, 1144, 1232, 1320, 1408, 1496, 1584, 1672, 1760, 1848, 1936, 2024, 2112, 2200], "labels": false, "ticks": false, "domain": false, "grid": true, "gridDash": [2, 2], "gridColor": "#C4C4C4", "title": null}}}},
  {"data": {"values": []}, "mark": {"type": "rule"},
   "encoding": {"x": {"field": "d", "type": "quantitative", "scale": {"domain": [0, 2200], "nice": false, "zero": false},
     "axis": {"orient": "bottom", "values": [0, 147, 294, 441, 588, 735, 882, 1029, 1176, 1323, 1470, 1617, 1764, 1911, 2058], "labelExpr": "timeFormat(datetime(2000, 0, 1 + datum.value), '%-d.%-m.%Y') + ' 6:00:00'", "labelAngle": 270, "labelFontSize": 24.5, "labelLimit": 500, "labelPadding": 12, "labelColor": "black", "labelFlush": false, "labelOverlap": false, "ticks": false, "domain": false, "grid": false,
       "title": "(24-hours averages, nSv/h))", "titleFontSize": 27, "titleFontStyle": "italic", "titleFontWeight": "normal", "titleColor": "black", "titleX": 829, "titleY": 286, "titleAlign": "center", "titleBaseline": "middle"}}}},
  {"data": {"name": "sp"},
   "encoding": {"color": {"datum": "Strbske Pleso", "type": "nominal", "scale": {"domain": ["Strbske Pleso", "Telgart", "Kojsovska hola"], "range": ["#0000FF", "#FF0000", "#008000"]}, "legend": {"title": null}}},
   "layer": [
     {"mark": {"type": "line", "strokeWidth": 1, "invalid": "break-paths-filter-domains"}, "encoding": {}},
     {"mark": {"type": "point", "shape": "M-1,0L0,-0.8L1,0L0,0.8Z", "filled": true, "size": 60, "opacity": 1}, "encoding": {}}
   ]},
  {"data": {"name": "tg"},
   "encoding": {"color": {"datum": "Telgart", "type": "nominal", "legend": {"title": null}}},
   "layer": [
     {"mark": {"type": "line", "strokeWidth": 1, "invalid": "break-paths-filter-domains"}, "encoding": {}},
     {"mark": {"type": "point", "shape": "M-1,0L0,-0.8L1,0L0,0.8Z", "filled": true, "size": 60, "opacity": 1}, "encoding": {}}
   ]},
  {"data": {"name": "kh"},
   "encoding": {"color": {"datum": "Kojsovska hola", "type": "nominal", "legend": {"title": null}}},
   "layer": [
     {"mark": {"type": "line", "strokeWidth": 1, "invalid": "break-paths-filter-domains"}, "encoding": {}},
     {"mark": {"type": "point", "shape": "M-1,0L0,-0.8L1,0L0,0.8Z", "filled": true, "size": 60, "opacity": 1}, "encoding": {}}
   ]}
]
}
